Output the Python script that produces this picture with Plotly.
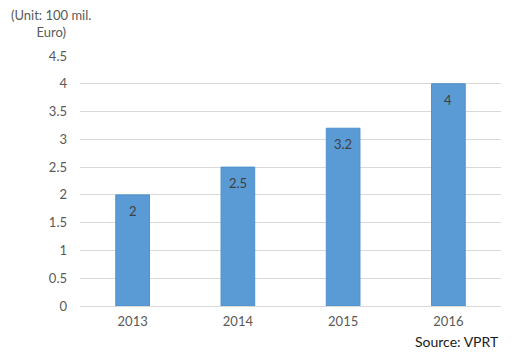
import plotly.graph_objects as go

years = ["2013", "2014", "2015", "2016"]
values = [2, 2.5, 3.2, 4]
y_ticks = [0, 0.5, 1, 1.5, 2, 2.5, 3, 3.5, 4, 4.5]
y_tick_labels = ["0", "0.5", "1", "1.5", "2", "2.5", "3", "3.5", "4", "4.5"]

font = "Lato, 'Open Sans', sans-serif"

fig = go.Figure(go.Bar(
    x=years, y=values,
    marker=dict(color="#5B9BD5", line=dict(color="#4F90CC", width=1)),
    width=0.32,
    hoverinfo="x+y",
))

# value labels inside the bar tops (x given as category index)
label_annotations = [
    dict(x=i, y=v, xref="x", yref="y", text=str(v), showarrow=False,
         yshift=-16, yanchor="middle", xanchor="center",
         font=dict(size=13, color="#404040", family=font))
    for i, v in enumerate(values)
]

fig.update_layout(
    width=500, height=344,
    margin=dict(l=72, r=7, t=48, b=46),
    plot_bgcolor="white", paper_bgcolor="white",
    showlegend=False,
    font=dict(family=font, color="#595959", size=13),
    xaxis=dict(type="category", categoryorder="array", categoryarray=years,
               range=[-0.5, len(years) - 0.5],
               showgrid=False, showline=False, ticks="", ticklabelstandoff=6,
               tickfont=dict(size=13, color="#595959")),
    yaxis=dict(range=[0, 4.5], tickvals=y_ticks, ticktext=y_tick_labels,
               showgrid=True, gridcolor="#D9D9D9", gridwidth=1,
               zeroline=True, zerolinecolor="#D9D9D9", zerolinewidth=1,
               showline=False, ticks="", ticklabelstandoff=12,
               tickfont=dict(size=13, color="#595959")),
    annotations=label_annotations + [
        dict(text="(Unit: 100 mil.<br>Euro)", xref="paper", yref="paper",
             x=-0.07, y=1.0, yshift=51, xanchor="center", yanchor="top",
             showarrow=False, align="center",
             font=dict(size=13, color="#595959", family=font)),
        dict(text="Source: VPRT", xref="paper", yref="paper",
             x=1.0, y=0, yshift=-46, xanchor="right", yanchor="bottom",
             showarrow=False, font=dict(size=14, color="#1a1a1a", family=font)),
    ],
)

fig.write_html("out.html")
